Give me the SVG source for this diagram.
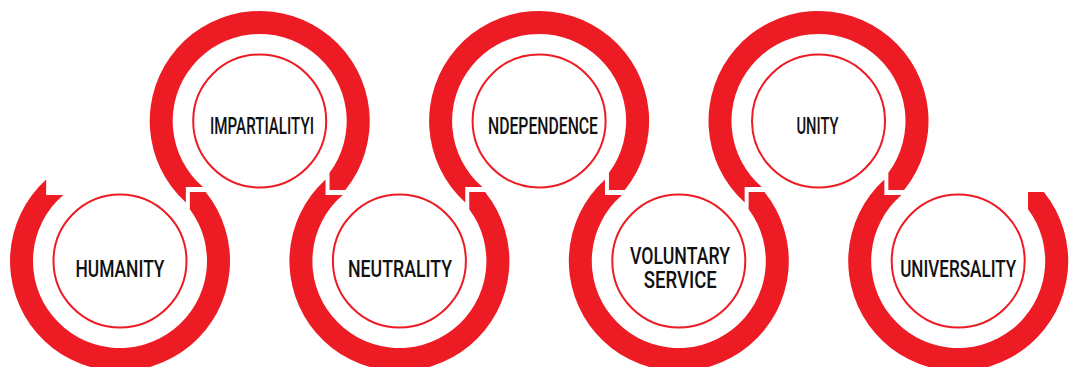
<svg xmlns="http://www.w3.org/2000/svg" xmlns:xlink="http://www.w3.org/1999/xlink" width="1074" height="367" viewBox="0 0 1074 367">
  <style>
    .ring{fill:#ED1C24}
    .inner{fill:#fff;stroke:#ED1C24;stroke-width:2}
    .lbl{font-family:Roboto,"Liberation Sans",sans-serif;font-size:23px;font-weight:500;fill:#111;text-anchor:middle}
  </style>
  <defs>
    <path id="ringB" d="M-73.85,-81.5 A110,110 0 1 0 85.67,-69 L69.85,-69 L69.85,-51.87 A87,87 0 1 1 -56.68,-66 L-73.85,-66 Z"/>
    <path id="ringT" d="M-73.85,81.5 A110,110 0 1 1 85.67,69 L69.85,69 L69.85,51.87 A87,87 0 1 0 -56.68,66 L-73.85,66 Z"/>
  </defs>
  <rect width="1074" height="367" fill="#fff"/>
  <g id="connectors"></g>
  <g id="humanity" transform="translate(120,261)">
    <use xlink:href="#ringB" class="ring"/>
    <circle class="inner" r="66.5"/>
    <text class="lbl" x="0" y="16" textLength="89" lengthAdjust="spacingAndGlyphs">HUMANITY</text>
  </g>
  <g id="impartiality" transform="translate(259.7,121)">
    <use xlink:href="#ringT" class="ring"/>
    <circle class="inner" r="66.5"/>
    <text class="lbl" x="2.3" y="13" textLength="104" lengthAdjust="spacingAndGlyphs">IMPARTIALITYI</text>
  </g>
  <g id="neutrality" transform="translate(399.4,261)">
    <use xlink:href="#ringB" class="ring"/>
    <circle class="inner" r="66.5"/>
    <text class="lbl" x="0.6" y="16" textLength="104" lengthAdjust="spacingAndGlyphs">NEUTRALITY</text>
  </g>
  <g id="independence" transform="translate(539.1,121)">
    <use xlink:href="#ringT" class="ring"/>
    <circle class="inner" r="66.5"/>
    <text class="lbl" x="3.9" y="13" textLength="110" lengthAdjust="spacingAndGlyphs">NDEPENDENCE</text>
  </g>
  <g id="voluntary-service" transform="translate(678.8,261)">
    <use xlink:href="#ringB" class="ring"/>
    <circle class="inner" r="66.5"/>
    <text class="lbl" x="1.2" y="3" textLength="100" lengthAdjust="spacingAndGlyphs">VOLUNTARY</text>
    <text class="lbl" x="1.5" y="27.3" textLength="73" lengthAdjust="spacingAndGlyphs">SERVICE</text>
  </g>
  <g id="unity" transform="translate(818.5,121)">
    <use xlink:href="#ringT" class="ring"/>
    <circle class="inner" r="66.5"/>
    <text class="lbl" x="-1" y="13" textLength="42" lengthAdjust="spacingAndGlyphs">UNITY</text>
  </g>
  <g id="universality" transform="translate(958.2,261)">
    <use xlink:href="#ringB" class="ring"/>
    <circle class="inner" r="66.5"/>
    <text class="lbl" x="0" y="16" textLength="116" lengthAdjust="spacingAndGlyphs">UNIVERSALITY</text>
  </g>
</svg>
